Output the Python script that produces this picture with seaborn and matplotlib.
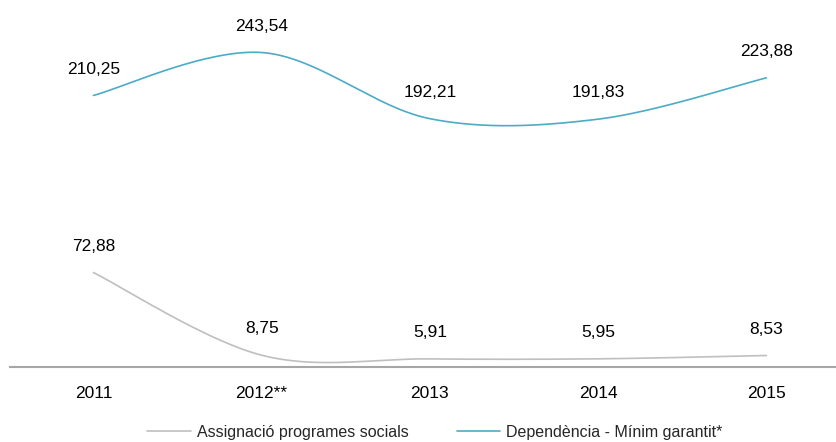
import numpy as np
import pandas as pd
import matplotlib
matplotlib.use("Agg")
import matplotlib.pyplot as plt
import seaborn as sns

years = ["2011", "2012**", "2013", "2014", "2015"]
assignacio = [72.88, 8.75, 5.91, 5.95, 8.53]
dependencia = [210.25, 243.54, 192.21, 191.83, 223.88]
series_names = ["Assignació programes socials", "Dependència - Mínim garantit*"]
series_colors = ["#BFBFBF", "#4BACC6"]

sns.set_theme(style="white")
plt.rcParams["font.family"] = ["Liberation Sans Narrow", "Liberation Sans", "DejaVu Sans"]


def smooth_curve(values, n=60):
    """Catmull-Rom style cubic Bezier through the points (spreadsheet 'smoothed line')."""
    y = np.asarray(values, dtype=float)
    x = np.arange(len(y), dtype=float)
    xs, ys = [], []
    for i in range(len(y) - 1):
        x0, x3 = x[i], x[i + 1]
        y0, y3 = y[i], y[i + 1]
        xm1, ym1 = (x[i - 1], y[i - 1]) if i > 0 else (x0, y0)
        xp2, yp2 = (x[i + 2], y[i + 2]) if i + 2 < len(y) else (x3, y3)
        x1, y1 = x0 + (x3 - xm1) / 6, y0 + (y3 - ym1) / 6
        x2, y2 = x3 - (xp2 - x0) / 6, y3 - (yp2 - y0) / 6
        t = np.linspace(0, 1, n, endpoint=(i == len(y) - 2))
        b0, b1, b2, b3 = (1 - t) ** 3, 3 * (1 - t) ** 2 * t, 3 * (1 - t) * t ** 2, t ** 3
        xs.append(b0 * x0 + b1 * x1 + b2 * x2 + b3 * x3)
        ys.append(b0 * y0 + b1 * y1 + b2 * y2 + b3 * y3)
    return np.concatenate(xs), np.concatenate(ys)


frames = []
for name, vals in zip(series_names, [assignacio, dependencia]):
    sx, sy = smooth_curve(vals)
    frames.append(pd.DataFrame({"x": sx, "y": sy, "serie": name}))
curves = pd.concat(frames, ignore_index=True)

fig = plt.figure(figsize=(8.36, 4.42), dpi=100)
ax = fig.add_axes([10 / 836, 1 - 366.5 / 442, 826 / 836, 361 / 442])

sns.lineplot(data=curves, x="x", y="y", hue="serie", palette=series_colors,
             hue_order=series_names, sort=False, linewidth=1.2, ax=ax, legend=False)

# value labels above each point
for vals in [assignacio, dependencia]:
    for i, v in enumerate(vals):
        ax.annotate(f"{v:.2f}".replace(".", ","), xy=(i, v), xytext=(0, 19),
                    textcoords="offset points", ha="center", va="center",
                    fontsize=12.5, color="#000000")

ax.set_xlim(-0.496, 4.414)
ax.set_ylim(0, 280)
ax.set_xticks(range(len(years)))
ax.set_xticklabels(years, fontsize=12.5, color="#000000")
ax.tick_params(axis="x", length=0, pad=14)
ax.set_yticks([])
ax.set_xlabel("")
ax.set_ylabel("")
for side in ["top", "left", "right"]:
    ax.spines[side].set_visible(False)
ax.spines["bottom"].set_color("#A6A6A6")
ax.spines["bottom"].set_linewidth(1.5)

handles = [plt.Line2D([], [], color=c, linewidth=1.2) for c in series_colors]
fig.legend(handles, series_names, loc="center", bbox_to_anchor=(435 / 836, 0.022),
           ncol=2, frameon=False, fontsize=11.5, handlelength=2.7, handletextpad=0.4,
           columnspacing=3.0)

fig.savefig("out.png", dpi=100)
